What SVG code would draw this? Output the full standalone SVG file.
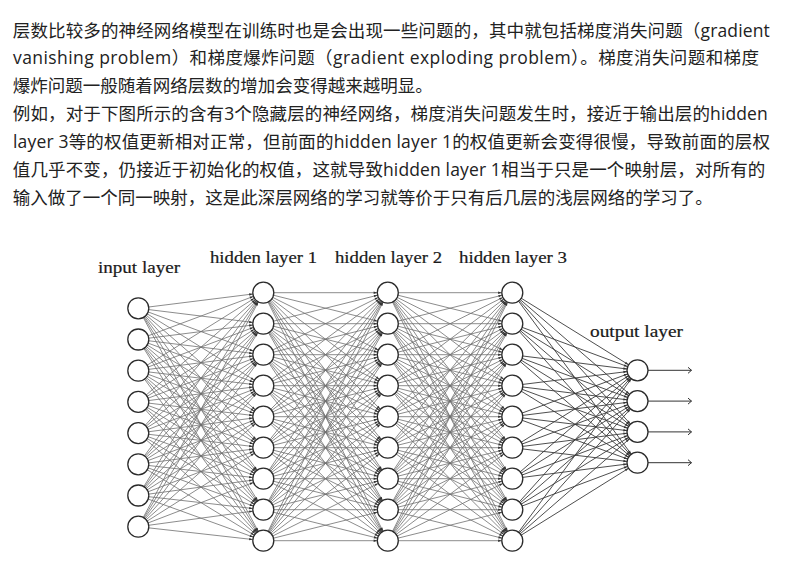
<svg xmlns="http://www.w3.org/2000/svg" xmlns:xlink="http://www.w3.org/1999/xlink" width="791" height="573" viewBox="0 0 791 573">
<style>
.p{font-family:"Open Sans","Noto Sans CJK SC",sans-serif;font-size:17.5px;fill:#222}
.lbl{font-family:"Liberation Serif","DejaVu Serif",serif;font-size:16px;fill:#1a1a1a;stroke:#1a1a1a;stroke-width:0.2}
.e path{fill:none;stroke:#6e6e6e;stroke-width:0.8;marker-end:url(#ah)}
.e2 path{fill:none;stroke:#3a3a3a;stroke-width:0.9;marker-end:url(#ah)}
.n circle{fill:#fff;stroke:#2a2a2a;stroke-width:1.3}
.out path{fill:none;stroke:#333;stroke-width:1;marker-end:url(#oa)}
</style>
<defs>
<marker id="ah" markerUnits="userSpaceOnUse" markerWidth="20" markerHeight="20" refX="10.6" refY="0" orient="auto" overflow="visible">
<path d="M-3.6,-1.2L0,0L-3.6,1.2z" fill="#333"/>
</marker>
<marker id="oa" markerUnits="userSpaceOnUse" markerWidth="10" markerHeight="10" refX="0" refY="0" orient="auto" overflow="visible">
<path d="M-3.5,-3L0,0L-3.5,3" fill="none" stroke="#333" stroke-width="1"/>
</marker>
</defs>

<g id="paragraph">
<text class="p" x="12.8" y="36.5" textLength="757" lengthAdjust="spacing">层数比较多的神经网络模型在训练时也是会出现一些问题的，其中就包括梯度消失问题（gradient</text>
<text class="p" x="13" y="64.4" textLength="746" lengthAdjust="spacing">vanishing problem）和梯度爆炸问题（gradient exploding problem）。梯度消失问题和梯度</text>
<text class="p" x="12.8" y="92.3">爆炸问题一般随着网络层数的增加会变得越来越明显。</text>
<text class="p" x="12.8" y="120.2" textLength="755" lengthAdjust="spacing">例如，对于下图所示的含有3个隐藏层的神经网络，梯度消失问题发生时，接近于输出层的hidden</text>
<text class="p" x="13" y="148.1" textLength="757" lengthAdjust="spacing">layer 3等的权值更新相对正常，但前面的hidden layer 1的权值更新会变得很慢，导致前面的层权</text>
<text class="p" x="12.8" y="176" textLength="752.5" lengthAdjust="spacing">值几乎不变，仍接近于初始化的权值，这就导致hidden layer 1相当于只是一个映射层，对所有的</text>
<text class="p" x="12.8" y="203.9">输入做了一个同一映射，这是此深层网络的学习就等价于只有后几层的浅层网络的学习了。</text>
</g>

<g id="labels">
<text class="lbl" x="98" y="273.3" textLength="82" lengthAdjust="spacingAndGlyphs">input layer</text>
<text class="lbl" x="210" y="262.5" textLength="107" lengthAdjust="spacingAndGlyphs">hidden layer 1</text>
<text class="lbl" x="335" y="262.5" textLength="107" lengthAdjust="spacingAndGlyphs">hidden layer 2</text>
<text class="lbl" x="459" y="262.5" textLength="108" lengthAdjust="spacingAndGlyphs">hidden layer 3</text>
<text class="lbl" x="590" y="337.3" textLength="93" lengthAdjust="spacingAndGlyphs">output layer</text>
</g>

<g id="connectors">
<g class="e" transform="translate(138.3 0)">
<path d="M0 308.3L125 292.7"/><path d="M0 308.3L125 323.7"/><path d="M0 308.3L125 354.7"/><path d="M0 308.3L125 385.7"/><path d="M0 308.3L125 416.7"/><path d="M0 308.3L125 447.7"/><path d="M0 308.3L125 478.7"/><path d="M0 308.3L125 509.7"/><path d="M0 308.3L125 540.7"/>
<path d="M0 339.5L125 292.7"/><path d="M0 339.5L125 323.7"/><path d="M0 339.5L125 354.7"/><path d="M0 339.5L125 385.7"/><path d="M0 339.5L125 416.7"/><path d="M0 339.5L125 447.7"/><path d="M0 339.5L125 478.7"/><path d="M0 339.5L125 509.7"/><path d="M0 339.5L125 540.7"/>
<path d="M0 370.7L125 292.7"/><path d="M0 370.7L125 323.7"/><path d="M0 370.7L125 354.7"/><path d="M0 370.7L125 385.7"/><path d="M0 370.7L125 416.7"/><path d="M0 370.7L125 447.7"/><path d="M0 370.7L125 478.7"/><path d="M0 370.7L125 509.7"/><path d="M0 370.7L125 540.7"/>
<path d="M0 401.9L125 292.7"/><path d="M0 401.9L125 323.7"/><path d="M0 401.9L125 354.7"/><path d="M0 401.9L125 385.7"/><path d="M0 401.9L125 416.7"/><path d="M0 401.9L125 447.7"/><path d="M0 401.9L125 478.7"/><path d="M0 401.9L125 509.7"/><path d="M0 401.9L125 540.7"/>
<path d="M0 433.1L125 292.7"/><path d="M0 433.1L125 323.7"/><path d="M0 433.1L125 354.7"/><path d="M0 433.1L125 385.7"/><path d="M0 433.1L125 416.7"/><path d="M0 433.1L125 447.7"/><path d="M0 433.1L125 478.7"/><path d="M0 433.1L125 509.7"/><path d="M0 433.1L125 540.7"/>
<path d="M0 464.3L125 292.7"/><path d="M0 464.3L125 323.7"/><path d="M0 464.3L125 354.7"/><path d="M0 464.3L125 385.7"/><path d="M0 464.3L125 416.7"/><path d="M0 464.3L125 447.7"/><path d="M0 464.3L125 478.7"/><path d="M0 464.3L125 509.7"/><path d="M0 464.3L125 540.7"/>
<path d="M0 495.5L125 292.7"/><path d="M0 495.5L125 323.7"/><path d="M0 495.5L125 354.7"/><path d="M0 495.5L125 385.7"/><path d="M0 495.5L125 416.7"/><path d="M0 495.5L125 447.7"/><path d="M0 495.5L125 478.7"/><path d="M0 495.5L125 509.7"/><path d="M0 495.5L125 540.7"/>
<path d="M0 526.7L125 292.7"/><path d="M0 526.7L125 323.7"/><path d="M0 526.7L125 354.7"/><path d="M0 526.7L125 385.7"/><path d="M0 526.7L125 416.7"/><path d="M0 526.7L125 447.7"/><path d="M0 526.7L125 478.7"/><path d="M0 526.7L125 509.7"/><path d="M0 526.7L125 540.7"/>
</g>
<g id="hh" class="e" transform="translate(263.3 0)">
<path d="M0 292.7L124.5 292.7"/><path d="M0 292.7L124.5 323.7"/><path d="M0 292.7L124.5 354.7"/><path d="M0 292.7L124.5 385.7"/><path d="M0 292.7L124.5 416.7"/><path d="M0 292.7L124.5 447.7"/><path d="M0 292.7L124.5 478.7"/><path d="M0 292.7L124.5 509.7"/><path d="M0 292.7L124.5 540.7"/>
<path d="M0 323.7L124.5 292.7"/><path d="M0 323.7L124.5 323.7"/><path d="M0 323.7L124.5 354.7"/><path d="M0 323.7L124.5 385.7"/><path d="M0 323.7L124.5 416.7"/><path d="M0 323.7L124.5 447.7"/><path d="M0 323.7L124.5 478.7"/><path d="M0 323.7L124.5 509.7"/><path d="M0 323.7L124.5 540.7"/>
<path d="M0 354.7L124.5 292.7"/><path d="M0 354.7L124.5 323.7"/><path d="M0 354.7L124.5 354.7"/><path d="M0 354.7L124.5 385.7"/><path d="M0 354.7L124.5 416.7"/><path d="M0 354.7L124.5 447.7"/><path d="M0 354.7L124.5 478.7"/><path d="M0 354.7L124.5 509.7"/><path d="M0 354.7L124.5 540.7"/>
<path d="M0 385.7L124.5 292.7"/><path d="M0 385.7L124.5 323.7"/><path d="M0 385.7L124.5 354.7"/><path d="M0 385.7L124.5 385.7"/><path d="M0 385.7L124.5 416.7"/><path d="M0 385.7L124.5 447.7"/><path d="M0 385.7L124.5 478.7"/><path d="M0 385.7L124.5 509.7"/><path d="M0 385.7L124.5 540.7"/>
<path d="M0 416.7L124.5 292.7"/><path d="M0 416.7L124.5 323.7"/><path d="M0 416.7L124.5 354.7"/><path d="M0 416.7L124.5 385.7"/><path d="M0 416.7L124.5 416.7"/><path d="M0 416.7L124.5 447.7"/><path d="M0 416.7L124.5 478.7"/><path d="M0 416.7L124.5 509.7"/><path d="M0 416.7L124.5 540.7"/>
<path d="M0 447.7L124.5 292.7"/><path d="M0 447.7L124.5 323.7"/><path d="M0 447.7L124.5 354.7"/><path d="M0 447.7L124.5 385.7"/><path d="M0 447.7L124.5 416.7"/><path d="M0 447.7L124.5 447.7"/><path d="M0 447.7L124.5 478.7"/><path d="M0 447.7L124.5 509.7"/><path d="M0 447.7L124.5 540.7"/>
<path d="M0 478.7L124.5 292.7"/><path d="M0 478.7L124.5 323.7"/><path d="M0 478.7L124.5 354.7"/><path d="M0 478.7L124.5 385.7"/><path d="M0 478.7L124.5 416.7"/><path d="M0 478.7L124.5 447.7"/><path d="M0 478.7L124.5 478.7"/><path d="M0 478.7L124.5 509.7"/><path d="M0 478.7L124.5 540.7"/>
<path d="M0 509.7L124.5 292.7"/><path d="M0 509.7L124.5 323.7"/><path d="M0 509.7L124.5 354.7"/><path d="M0 509.7L124.5 385.7"/><path d="M0 509.7L124.5 416.7"/><path d="M0 509.7L124.5 447.7"/><path d="M0 509.7L124.5 478.7"/><path d="M0 509.7L124.5 509.7"/><path d="M0 509.7L124.5 540.7"/>
<path d="M0 540.7L124.5 292.7"/><path d="M0 540.7L124.5 323.7"/><path d="M0 540.7L124.5 354.7"/><path d="M0 540.7L124.5 385.7"/><path d="M0 540.7L124.5 416.7"/><path d="M0 540.7L124.5 447.7"/><path d="M0 540.7L124.5 478.7"/><path d="M0 540.7L124.5 509.7"/><path d="M0 540.7L124.5 540.7"/>
</g>
<use xlink:href="#hh" href="#hh" transform="translate(124.5 0)"/>
<g class="e2" transform="translate(512.3 0)">
<path d="M0 292.7L125.2 370.3"/><path d="M0 292.7L125.2 401.1"/><path d="M0 292.7L125.2 431.9"/><path d="M0 292.7L125.2 462.7"/>
<path d="M0 323.7L125.2 370.3"/><path d="M0 323.7L125.2 401.1"/><path d="M0 323.7L125.2 431.9"/><path d="M0 323.7L125.2 462.7"/>
<path d="M0 354.7L125.2 370.3"/><path d="M0 354.7L125.2 401.1"/><path d="M0 354.7L125.2 431.9"/><path d="M0 354.7L125.2 462.7"/>
<path d="M0 385.7L125.2 370.3"/><path d="M0 385.7L125.2 401.1"/><path d="M0 385.7L125.2 431.9"/><path d="M0 385.7L125.2 462.7"/>
<path d="M0 416.7L125.2 370.3"/><path d="M0 416.7L125.2 401.1"/><path d="M0 416.7L125.2 431.9"/><path d="M0 416.7L125.2 462.7"/>
<path d="M0 447.7L125.2 370.3"/><path d="M0 447.7L125.2 401.1"/><path d="M0 447.7L125.2 431.9"/><path d="M0 447.7L125.2 462.7"/>
<path d="M0 478.7L125.2 370.3"/><path d="M0 478.7L125.2 401.1"/><path d="M0 478.7L125.2 431.9"/><path d="M0 478.7L125.2 462.7"/>
<path d="M0 509.7L125.2 370.3"/><path d="M0 509.7L125.2 401.1"/><path d="M0 509.7L125.2 431.9"/><path d="M0 509.7L125.2 462.7"/>
<path d="M0 540.7L125.2 370.3"/><path d="M0 540.7L125.2 401.1"/><path d="M0 540.7L125.2 431.9"/><path d="M0 540.7L125.2 462.7"/>
</g>
<g class="out">
<path d="M648 370.3H691.5"/><path d="M648 401.1H691.5"/><path d="M648 431.9H691.5"/><path d="M648 462.7H691.5"/>
</g>
</g>

<g class="n">
<g id="in1"><circle cx="138.3" cy="308.3" r="10.5"/></g>
<g id="in2"><circle cx="138.3" cy="339.5" r="10.5"/></g>
<g id="in3"><circle cx="138.3" cy="370.7" r="10.5"/></g>
<g id="in4"><circle cx="138.3" cy="401.9" r="10.5"/></g>
<g id="in5"><circle cx="138.3" cy="433.1" r="10.5"/></g>
<g id="in6"><circle cx="138.3" cy="464.3" r="10.5"/></g>
<g id="in7"><circle cx="138.3" cy="495.5" r="10.5"/></g>
<g id="in8"><circle cx="138.3" cy="526.7" r="10.5"/></g>

<g id="h1n1"><circle cx="263.3" cy="292.7" r="10.5"/></g>
<g id="h1n2"><circle cx="263.3" cy="323.7" r="10.5"/></g>
<g id="h1n3"><circle cx="263.3" cy="354.7" r="10.5"/></g>
<g id="h1n4"><circle cx="263.3" cy="385.7" r="10.5"/></g>
<g id="h1n5"><circle cx="263.3" cy="416.7" r="10.5"/></g>
<g id="h1n6"><circle cx="263.3" cy="447.7" r="10.5"/></g>
<g id="h1n7"><circle cx="263.3" cy="478.7" r="10.5"/></g>
<g id="h1n8"><circle cx="263.3" cy="509.7" r="10.5"/></g>
<g id="h1n9"><circle cx="263.3" cy="540.7" r="10.5"/></g>

<g id="h2n1"><circle cx="387.8" cy="292.7" r="10.5"/></g>
<g id="h2n2"><circle cx="387.8" cy="323.7" r="10.5"/></g>
<g id="h2n3"><circle cx="387.8" cy="354.7" r="10.5"/></g>
<g id="h2n4"><circle cx="387.8" cy="385.7" r="10.5"/></g>
<g id="h2n5"><circle cx="387.8" cy="416.7" r="10.5"/></g>
<g id="h2n6"><circle cx="387.8" cy="447.7" r="10.5"/></g>
<g id="h2n7"><circle cx="387.8" cy="478.7" r="10.5"/></g>
<g id="h2n8"><circle cx="387.8" cy="509.7" r="10.5"/></g>
<g id="h2n9"><circle cx="387.8" cy="540.7" r="10.5"/></g>

<g id="h3n1"><circle cx="512.3" cy="292.7" r="10.5"/></g>
<g id="h3n2"><circle cx="512.3" cy="323.7" r="10.5"/></g>
<g id="h3n3"><circle cx="512.3" cy="354.7" r="10.5"/></g>
<g id="h3n4"><circle cx="512.3" cy="385.7" r="10.5"/></g>
<g id="h3n5"><circle cx="512.3" cy="416.7" r="10.5"/></g>
<g id="h3n6"><circle cx="512.3" cy="447.7" r="10.5"/></g>
<g id="h3n7"><circle cx="512.3" cy="478.7" r="10.5"/></g>
<g id="h3n8"><circle cx="512.3" cy="509.7" r="10.5"/></g>
<g id="h3n9"><circle cx="512.3" cy="540.7" r="10.5"/></g>

<g id="out1"><circle cx="637.5" cy="370.3" r="10.5"/></g>
<g id="out2"><circle cx="637.5" cy="401.1" r="10.5"/></g>
<g id="out3"><circle cx="637.5" cy="431.9" r="10.5"/></g>
<g id="out4"><circle cx="637.5" cy="462.7" r="10.5"/></g>
</g>
</svg>
